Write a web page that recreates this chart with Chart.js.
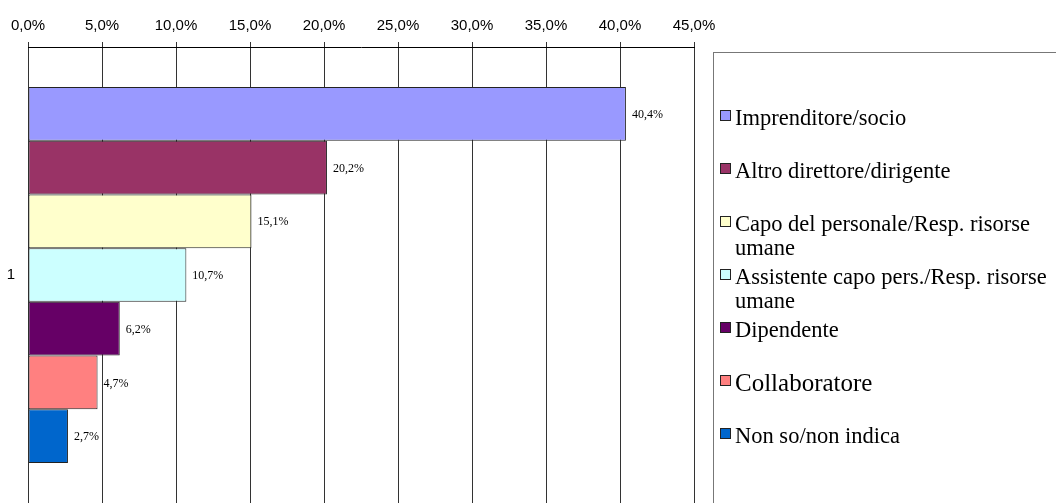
<!DOCTYPE html>
<html>
<head>
<meta charset="utf-8">
<title>Ruolo</title>
<script src="https://cdn.jsdelivr.net/npm/chart.js@4.4.1/dist/chart.umd.min.js"></script>
<style>
  html, body { margin: 0; padding: 0; background: #fff; }
  #wrap { position: relative; width: 1056px; height: 503px; }
</style>
</head>
<body>
<div id="wrap"><canvas id="chart"></canvas></div>
<script>
const categories = ['1'];
const seriesNames = [
  'Imprenditore/socio',
  'Altro direttore/dirigente',
  'Capo del personale/Resp. risorse umane',
  'Assistente capo pers./Resp. risorse umane',
  'Dipendente',
  'Collaboratore',
  'Non so/non indica'
];
const seriesValues = [40.4, 20.2, 15.1, 10.7, 6.2, 4.7, 2.7];
const seriesColors = ['#9999FF', '#993366', '#FFFFCC', '#CCFFFF', '#660066', '#FF8080', '#0066CC'];
const tickValues = [0, 5, 10, 15, 20, 25, 30, 35, 40, 45];

function pct(v) {
  return v.toFixed(1).replace('.', ',') + '%';
}

// labels with the value just past the end of each bar
const valueLabels = {
  id: 'valueLabels',
  afterDatasetsDraw(chart) {
    const ctx = chart.ctx;
    ctx.save();
    ctx.font = '12px "Liberation Serif"';
    ctx.fillStyle = '#000';
    ctx.textBaseline = 'middle';
    chart.data.datasets.forEach((ds, i) => {
      chart.getDatasetMeta(i).data.forEach((bar, j) => {
        ctx.fillText(pct(ds.data[j]), bar.x + 6, bar.y + 1);
      });
    });
    ctx.restore();
  }
};

// boxed legend on the right, long names wrap onto a second line
const sideLegend = {
  id: 'sideLegend',
  afterDraw(chart) {
    const ctx = chart.ctx;
    const left = chart.chartArea.right + 19;
    ctx.save();
    ctx.strokeStyle = '#777';
    ctx.lineWidth = 1;
    ctx.strokeRect(left + 0.5, 52.5, 500, 500);

    ctx.textBaseline = 'middle';
    const maxW = 320;
    chart.data.datasets.forEach((ds, i) => {
      const y = 119 + i * 53;
      const size = ds.label === 'Collaboratore' ? 25 : 22.5;
      ctx.font = size + 'px "Liberation Serif"';

      // split into lines that fit the box
      const words = ds.label.split(' ');
      const lines = [];
      let line = '';
      words.forEach(w => {
        const test = line ? line + ' ' + w : w;
        if (ctx.measureText(test).width > maxW && line) {
          lines.push(line);
          line = w;
        } else {
          line = test;
        }
      });
      lines.push(line);

      ctx.fillStyle = ds.backgroundColor;
      ctx.fillRect(left + 7, y - 9, 11, 11);
      ctx.strokeStyle = '#222';
      ctx.strokeRect(left + 7.5, y - 8.5, 10, 10);

      ctx.fillStyle = '#000';
      lines.forEach((t, k) => ctx.fillText(t, left + 22, y + k * 24));
    });
    ctx.restore();
  }
};

const datasets = seriesNames.map((name, i) => ({
  label: name,
  data: [seriesValues[i]],
  backgroundColor: seriesColors[i],
  borderColor: '#222',
  borderWidth: 1,
  borderSkipped: false,
  barPercentage: 1,
  categoryPercentage: 0.825
}));

new Chart(document.getElementById('chart'), {
  type: 'bar',
  data: { labels: categories, datasets: datasets },
  plugins: [valueLabels, sideLegend],
  options: {
    indexAxis: 'y',
    responsive: true,
    maintainAspectRatio: false,
    animation: false,
    layout: { padding: { left: 0, right: 362, top: 0, bottom: 0 } },
    plugins: {
      legend: { display: false },
      tooltip: { enabled: false }
    },
    scales: {
      x: {
        position: 'top',
        min: tickValues[0],
        max: tickValues[tickValues.length - 1],
        afterBuildTicks: s => { s.ticks = tickValues.map(v => ({ value: v })); },
        afterFit: s => { s.height = 47; s.paddingLeft = 0; s.paddingRight = 0; },
        ticks: {
          color: '#000',
          font: { family: 'Liberation Sans', size: 15 },
          padding: 7,
          maxRotation: 0,
          callback: v => pct(v)
        },
        grid: { color: '#333', tickLength: 5 },
        border: { color: '#000' }
      },
      y: {
        // plot runs to the bottom edge, no room kept for the label
        afterFit: s => { s.width = 28; s.paddingTop = 0; s.paddingBottom = 0; },
        ticks: {
          color: '#000',
          font: { family: 'Liberation Sans', size: 15 },
          padding: 13
        },
        grid: { display: false, drawTicks: false },
        border: { display: false }
      }
    }
  }
});
</script>
</body>
</html>
